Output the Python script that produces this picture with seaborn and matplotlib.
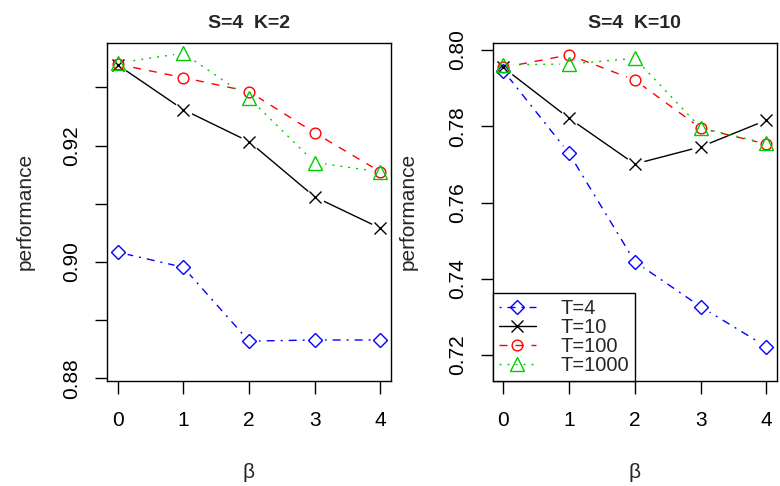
import matplotlib
matplotlib.use("Agg")
import matplotlib.pyplot as plt
from matplotlib.lines import Line2D
import seaborn as sns

# beta values on the x axis
BETA = [0, 1, 2, 3, 4]
T_LABELS = ["T=4", "T=10", "T=100", "T=1000"]

# S=4 K=2 panel
K2_T4 = [0.9017, 0.8991, 0.8864, 0.8866, 0.8866]
K2_T10 = [0.9339, 0.9262, 0.9207, 0.9112, 0.9058]
K2_T100 = [0.9340, 0.9317, 0.9293, 0.9222, 0.9155]
K2_T1000 = [0.9342, 0.9359, 0.9282, 0.9171, 0.9155]

# S=4 K=10 panel
K10_T4 = [0.7946, 0.7729, 0.7445, 0.7327, 0.7222]
K10_T10 = [0.7954, 0.7821, 0.7701, 0.7746, 0.7816]
K10_T100 = [0.7954, 0.7987, 0.7921, 0.7795, 0.7753]
K10_T1000 = [0.7961, 0.7963, 0.7978, 0.7796, 0.7755]

K2_YTICKS = [0.88, 0.89, 0.90, 0.91, 0.92, 0.93]
K2_YTICKLABELS = ["0.88", "", "0.90", "", "0.92", ""]
K10_YTICKS = [0.72, 0.74, 0.76, 0.78, 0.80]
K10_YTICKLABELS = ["0.72", "0.74", "0.76", "0.78", "0.80"]

COLORS = ["#0000FF", "#000000", "#FF0000", "#00CD00"]
MARKERS = ["D", "x", "o", "^"]
MSIZES = [7.0, 8.0, 7.7, 9.6]
# R style line types: dotdash, solid, dashed, dotted
STYLES = [(0, (1.44, 4.32, 5.76, 4.32)), "-", (0, (5.76, 5.76)), (0, (1.44, 4.32))]

FS = 15       # ticks and axis labels
FS_TITLE = 14
FS_LEG = 14.5


def draw_panel(ax, series, title, yticks, yticklabels, ylim):
    ''' draws one R-like type="b" panel '''
    for vals, c, ls in zip(series, COLORS, STYLES):
        sns.lineplot(x=BETA, y=vals, ax=ax, color=c, linestyle=ls,
                     linewidth=1.0, zorder=2)
    # white discs give the gap around the points, like R's type="b"
    for vals in series:
        ax.plot(BETA, vals, linestyle="none", marker="o", ms=12.5,
                mfc="white", mec="white", zorder=3)
    for vals, c, m, s in zip(series, COLORS, MARKERS, MSIZES):
        ax.plot(BETA, vals, linestyle="none", marker=m, ms=s, mfc="none",
                mec=c, mew=1.0, zorder=4)

    ax.set_xlim(-0.16, 4.16)
    ax.set_ylim(*ylim)
    ax.set_xticks(BETA, [str(b) for b in BETA])
    ax.set_yticks(yticks, yticklabels)
    for lab in ax.get_yticklabels():
        lab.set_rotation(90)
        lab.set_va("center")
    ax.tick_params(axis="both", direction="out", length=9, width=1.0,
                   color="black", labelsize=FS, labelcolor="black")
    ax.tick_params(axis="x", pad=13)
    ax.tick_params(axis="y", pad=9.5)
    for sp in ax.spines.values():
        sp.set_color("black")
        sp.set_linewidth(1.0)
    ax.set_title(title, fontsize=FS_TITLE, fontweight="bold", pad=10.6)
    ax.set_xlabel("β", fontsize=FS)
    ax.set_ylabel("performance", fontsize=FS)
    ax.grid(False)


def main():
    sns.set_style("ticks")
    plt.rcParams["font.family"] = ["Liberation Sans", "DejaVu Sans"]

    fig = plt.figure(figsize=(7.8, 4.86), dpi=100)
    ax1 = fig.add_axes([107 / 780, 1 - 380.7 / 486, 284 / 780, 338 / 486])
    ax2 = fig.add_axes([492.7 / 780, 1 - 380.7 / 486, 284.3 / 780, 338 / 486])

    draw_panel(ax1, [K2_T4, K2_T10, K2_T100, K2_T1000], "S=4  K=2",
               K2_YTICKS, K2_YTICKLABELS, (0.8796, 0.9377))
    draw_panel(ax2, [K10_T4, K10_T10, K10_T100, K10_T1000], "S=4  K=10",
               K10_YTICKS, K10_YTICKLABELS, (0.7133, 0.8019))

    ax1.yaxis.set_label_coords(-0.255, 0.5)
    ax2.yaxis.set_label_coords(-0.265, 0.5)
    ax1.xaxis.set_label_coords(0.5, -0.243)
    ax2.xaxis.set_label_coords(0.5, -0.243)

    handles = [Line2D([], [], color=c, linestyle=ls, lw=1.0, marker=m, ms=s,
                      mfc="none", mec=c, mew=1.0)
               for c, ls, m, s in zip(COLORS, STYLES, MARKERS, MSIZES)]
    leg = ax2.legend(handles, T_LABELS, loc="lower left", borderaxespad=0,
                     fontsize=FS_LEG, fancybox=False, framealpha=1,
                     edgecolor="black", handlelength=1.85, handletextpad=1.2,
                     labelspacing=0.0, borderpad=0.3)
    leg.get_frame().set_linewidth(1.0)
    leg.set_zorder(5)

    fig.savefig("out.png", dpi=100)


if __name__ == "__main__":
    main()
